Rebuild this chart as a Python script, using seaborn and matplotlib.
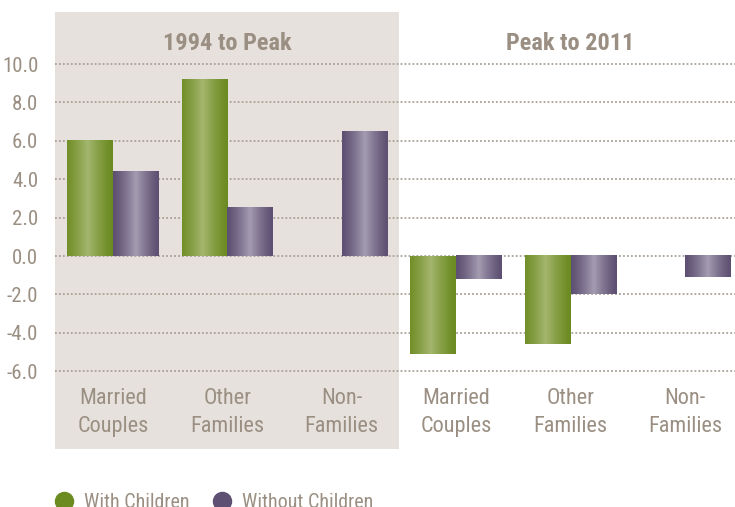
import numpy as np
import pandas as pd
import seaborn as sns
import matplotlib.pyplot as plt
from matplotlib import font_manager
from matplotlib.colors import to_rgb
from matplotlib.lines import Line2D

# Data
periods = ["1994 to Peak", "Peak to 2011"]
categories = ["Married\nCouples", "Other\nFamilies", "Non-\nFamilies"]
series = ["With Children", "Without Children"]
with_children = [6.0, 9.2, np.nan, -5.1, -4.6, np.nan]
without_children = [4.4, 2.5, 6.5, -1.2, -2.0, -1.1]

keys = [p + "|" + c for p in periods for c in categories]
df = pd.DataFrame({
    "key": keys * 2,
    "series": [series[0]] * len(keys) + [series[1]] * len(keys),
    "value": with_children + without_children,
})

# colours: (edge, centre) of the shaded bars
shades = {
    series[0]: ("#6b8b21", "#a4b66e"),
    series[1]: ("#5e5072", "#a49db2"),
}
text_col = "#9a8f82"
panel_col = "#e6e1dc"
grid_col = "#aaa096"

# pick a narrow font if one is around
installed = {f.name for f in font_manager.fontManager.ttflist}
narrow = [n for n in ["Liberation Sans Narrow", "Roboto Condensed", "Open Sans Condensed",
                      "DejaVu Sans Condensed", "Noto Sans Condensed"] if n in installed]
family = narrow[:1] + ["Roboto", "DejaVu Sans"]

sns.set_style("white")
plt.rcParams["font.family"] = family

fig, ax = plt.subplots(figsize=(7.35, 5.07), dpi=100)
fig.subplots_adjust(left=55 / 735, right=1.0, top=1 - 12 / 507, bottom=1 - 449 / 507)

sns.barplot(data=df, x="key", y="value", hue="series", hue_order=series,
            palette=[shades[s][0] for s in series], width=0.8, saturation=1,
            errorbar=None, legend=False, ax=ax)

# replace flat bars by horizontal gradients
t = np.linspace(0, 1, 64)
for patch in list(ax.patches):
    h = patch.get_height()
    if not np.isfinite(h) or h == 0:
        continue
    x0, w, y0 = patch.get_x(), patch.get_width(), patch.get_y()
    edge = np.array(to_rgb(patch.get_facecolor()))
    d = [np.abs(edge - np.array(to_rgb(shades[s][0]))).sum() for s in series]
    key = series[int(np.argmin(d))]
    light = np.array(to_rgb(shades[key][1]))
    peak = 0.45 if key == series[0] else 0.5
    wgt = np.clip(1 - np.abs(t - peak) / (1 - peak), 0, 1) ** 1.3
    img = edge[None, :] + (light - edge)[None, :] * wgt[:, None]
    ax.imshow(img[None, :, :], extent=[x0, x0 + w, min(y0, y0 + h), max(y0, y0 + h)],
              aspect="auto", zorder=2, interpolation="bilinear")
    patch.set_visible(False)

# shaded panel behind the first period
ax.axvspan(-0.51, 2.5, color=panel_col, zorder=0, lw=0)

ax.set_xlim(-0.507, 5.437)
ax.set_ylim(-10.05, 12.71)
ticks = np.arange(-6, 11, 2)
ax.set_yticks(ticks)
ax.set_yticklabels([f"{v:.1f}" for v in ticks], color=text_col, fontsize=15)
ax.set_xticks([])
ax.tick_params(length=0, pad=12)
ax.yaxis.grid(True, ls=(0, (1, 1.2)), color=grid_col, lw=1.3)
ax.set_axisbelow(True)
for s in ax.spines.values():
    s.set_visible(False)
ax.set_xlabel("")
ax.set_ylabel("")

for i, p in enumerate(periods):
    ax.text(1 + 3 * i, 11.05, p, ha="center", va="center", fontsize=17.5,
            fontweight="bold", color=text_col)
for i, k in enumerate(keys):
    ax.text(i, -8.15, categories[i % 3], ha="center", va="center", fontsize=16,
            color=text_col, linespacing=1.4)

handles = [Line2D([], [], marker="o", ls="", markersize=13, color=shades[s][0]) for s in series]
fig.legend(handles, series, loc="lower left", bbox_to_anchor=(36 / 735, -0.045),
           ncol=2, frameon=False, fontsize=14.5, labelcolor=text_col,
           handlelength=1.0, handletextpad=0.5, columnspacing=1.1)

fig.savefig("out.png", dpi=100)
